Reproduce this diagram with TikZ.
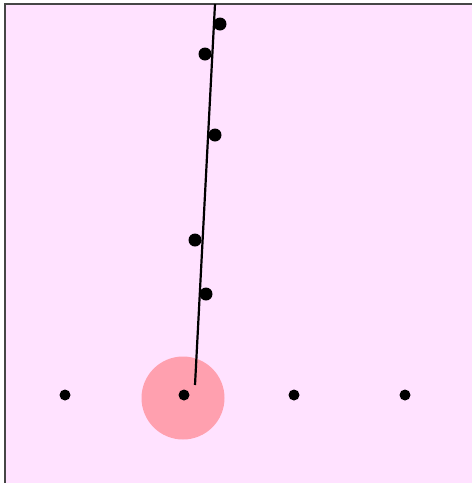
\documentclass[tikz,border=0pt]{standalone}
\definecolor{bgpink}{RGB}{255,226,255}
\definecolor{halo}{RGB}{255,160,175}
\definecolor{frame}{RGB}{70,70,70}
\tikzset{
  dotnode/.style={circle,fill=black,inner sep=0pt,minimum size=13pt},
  smalldot/.style={circle,fill=black,inner sep=0pt,minimum size=11pt},
  stick/.style={line width=2.2pt,black}
}
\begin{document}
\begin{tikzpicture}[x=1pt,y=-1pt]
\useasboundingbox (0,0) rectangle (472,483);
\fill[white] (0,0) rectangle (472,483);
\fill[bgpink] (5,4) rectangle (472,483);
\draw[frame,line width=2pt] (5,483) -- (5,4) -- (472,4);
\fill[halo] (183,398) circle (41.5);
\coordinate (base) at (195,385);
\coordinate (top) at (215,4);
\draw[stick] (base) -- (top);
\node[dotnode] (d1) at (220,24) {};
\node[dotnode] (d2) at (205,54) {};
\node[dotnode] (d3) at (215,135) {};
\node[dotnode] (d4) at (195,240) {};
\node[dotnode] (d5) at (206,294) {};
\node[smalldot] (b1) at (65,395) {};
\node[smalldot] (b2) at (184,395) {};
\node[smalldot] (b3) at (294,395) {};
\node[smalldot] (b4) at (405,395) {};
\end{tikzpicture}
\end{document}
